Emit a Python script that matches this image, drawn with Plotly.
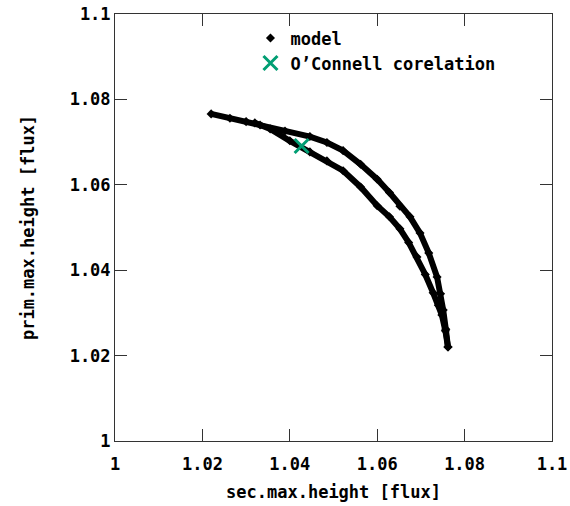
import plotly.graph_objects as go

# Model: outer (upper) arc
upper_x = [1.0220, 1.0263, 1.0300, 1.0332, 1.0389, 1.0446, 1.0485, 1.0522, 1.0562, 1.0600,
           1.0628, 1.0652, 1.0675, 1.0698, 1.0718, 1.0737, 1.0745, 1.0751, 1.0757, 1.0762]
upper_y = [1.0766, 1.0756, 1.0748, 1.0740, 1.0726, 1.0713, 1.0699, 1.0680, 1.0648, 1.0613,
           1.0582, 1.0550, 1.0525, 1.0487, 1.0440, 1.0384, 1.0345, 1.0307, 1.0262, 1.0220]
# Model: inner (lower) arc
lower_x = [1.0320, 1.0355, 1.0400, 1.0446, 1.0485, 1.0522, 1.0562, 1.0600, 1.0628, 1.0652,
           1.0672, 1.0691, 1.0710, 1.0728, 1.0740, 1.0748, 1.0756, 1.0762]
lower_y = [1.0745, 1.0731, 1.0703, 1.0677, 1.0656, 1.0633, 1.0595, 1.0551, 1.0525, 1.0497,
           1.0465, 1.0431, 1.0390, 1.0347, 1.0318, 1.0295, 1.0258, 1.0220]

# O'Connell correlation point
oc_x = [1.0427]
oc_y = [1.0691]

tick_vals = [1.0, 1.02, 1.04, 1.06, 1.08, 1.1]
tick_text = ["1", "1.02", "1.04", "1.06", "1.08", "1.1"]

FONT = dict(family="DejaVu Sans Mono", size=17, color="black", weight="bold")

fig = go.Figure()
for xs, ys in [(upper_x, upper_y), (lower_x, lower_y)]:
    fig.add_trace(go.Scatter(x=xs, y=ys, mode="lines", line=dict(color="black", width=6),
                             showlegend=False, hoverinfo="skip"))
fig.add_trace(go.Scatter(x=upper_x + [None] + lower_x, y=upper_y + [None] + lower_y,
                         mode="markers", name="model",
                         marker=dict(symbol="diamond", size=7, color="black")))
fig.add_trace(go.Scatter(x=oc_x, y=oc_y, mode="markers", name="O\u2019Connell corelation",
                         marker=dict(symbol="x-thin", size=14, color="#009e73",
                                     line=dict(color="#009e73", width=3))))

axis_common = dict(
    tickvals=tick_vals, ticktext=tick_text, ticks="inside", ticklen=12, tickwidth=1,
    tickcolor="#333333", showline=True, linecolor="#333333", linewidth=1, mirror="ticks",
    showgrid=False, zeroline=False, tickfont=FONT, range=[1.0, 1.1], automargin=False,
)

fig.update_layout(
    width=570, height=506,
    margin=dict(l=115, r=18, t=14, b=65),
    paper_bgcolor="white", plot_bgcolor="white",
    xaxis=dict(**axis_common, ticklabelstandoff=8,
               title=dict(text="sec.max.height [flux]", font=FONT, standoff=12)),
    yaxis=dict(**axis_common, ticklabelstandoff=0,
               title=dict(text="prim.max.height [flux]", font=FONT, standoff=30)),
    legend=dict(x=0.31, y=0.985, xanchor="left", yanchor="top", font=FONT,
                bgcolor="rgba(0,0,0,0)", tracegroupgap=0, itemwidth=30),
)

fig.write_html("out.html")
